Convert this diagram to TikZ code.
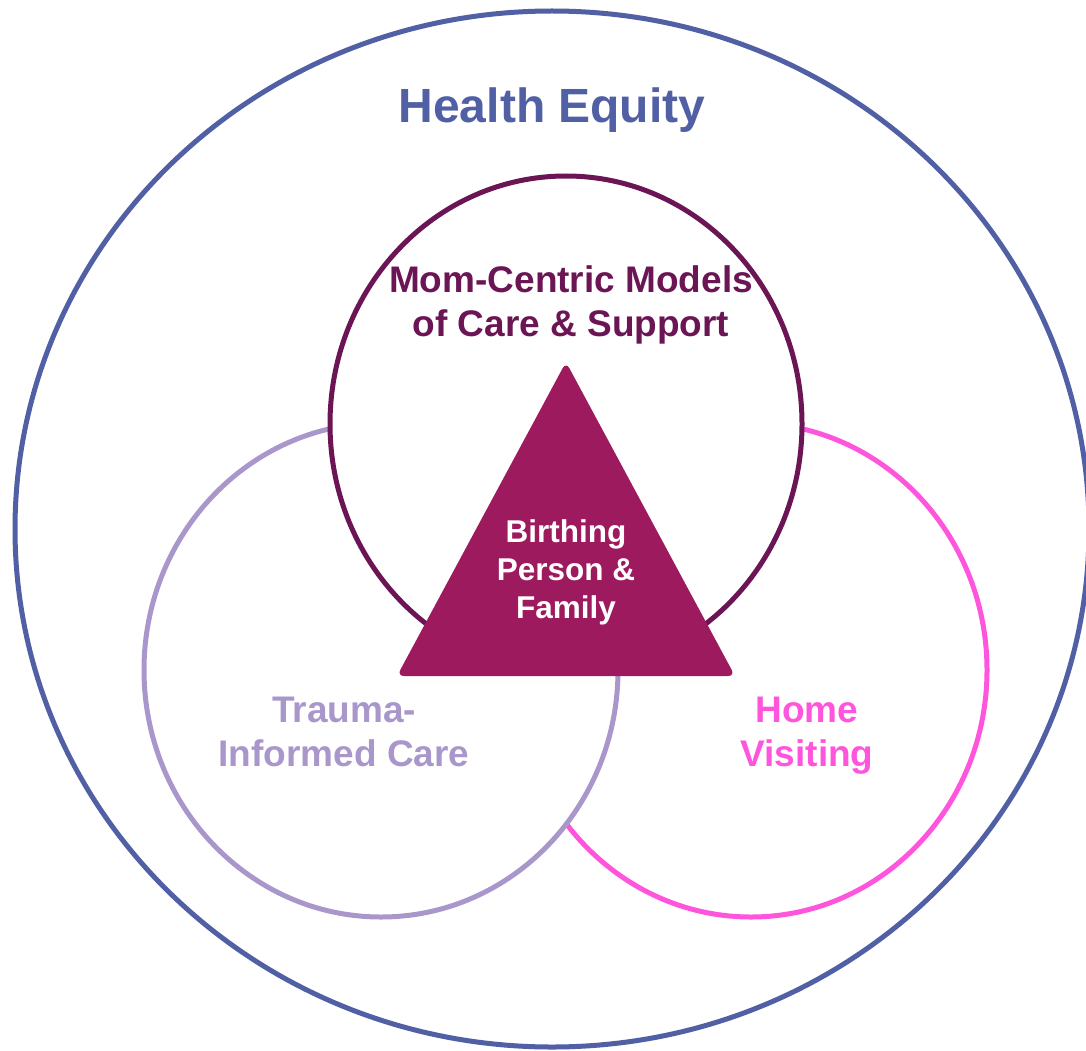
\documentclass[tikz,border=0pt]{standalone}
\usepackage{fontspec}
\setmainfont{Liberation Sans}
\definecolor{equityblue}{HTML}{5160A5}
\definecolor{momplum}{HTML}{6B1555}
\definecolor{coremagenta}{HTML}{9D1A5E}
\definecolor{traumalilac}{HTML}{A997CB}
\definecolor{homepink}{HTML}{FF55DD}
\tikzset{
  ring/.style={line width=5pt},
  label37/.style={font=\fontsize{37}{44}\selectfont\bfseries, align=center, inner sep=0pt},
}
\begin{document}
\begin{tikzpicture}[x=1pt,y=-1pt]
\useasboundingbox (0,0) rectangle (1086,1051);
\clip (0,0) rectangle (1086,1051);
\fill[white] (0,0) rectangle (1086,1051);

% outer ring
\coordinate (eqc) at (552,529);
\draw[ring, equityblue] (eqc) ellipse [x radius=537, y radius=518];
\node[font=\fontsize{48}{56}\selectfont\bfseries, text=equityblue, anchor=base, inner sep=0pt] (equity) at (552,123) {Health Equity};

% three overlapping rings
\coordinate (homec) at (751,670);
\coordinate (traumac) at (381,670);
\coordinate (momc) at (566,424);
\draw[ring, homepink, fill=white] (homec) ellipse [x radius=236, y radius=247];
\draw[ring, traumalilac, fill=white] (traumac) ellipse [x radius=237, y radius=247];
\draw[ring, momplum, fill=white] (momc) ellipse [x radius=236, y radius=248];

% central triangle
\fill[coremagenta, rounded corners=7pt] (566,362) -- (735,676) -- (397,676) -- cycle;

% labels
\node[label37, text=momplum] (mom) at (571,305) {Mom-Centric Models\\of Care \& Support};
\node[label37, text=traumalilac] (trauma) at (344,732) {Trauma-\\Informed Care};
\node[label37, text=homepink] (home) at (807,736) {Home\\Visiting};
\node[font=\fontsize{31.5}{38}\selectfont\bfseries, text=white, align=center, inner sep=0pt] (core) at (566,572) {Birthing\\Person \&\\Family};
\end{tikzpicture}
\end{document}
